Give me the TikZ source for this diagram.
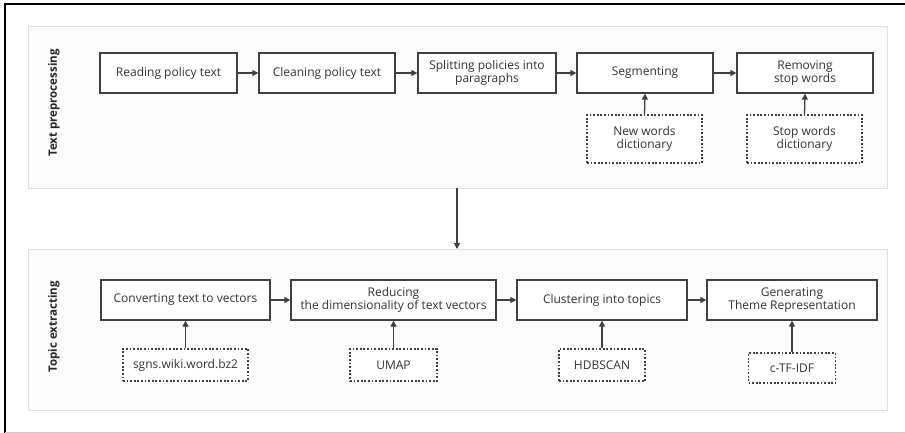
\documentclass[tikz,border=0pt]{standalone}
\usepackage{fontspec}
\setmainfont{Open Sans}
\usetikzlibrary{arrows.meta}
\definecolor{boxline}{HTML}{404040}
\definecolor{panelline}{HTML}{E0E0E0}
\definecolor{panelfill}{HTML}{FBFBFB}
\begin{document}
\begin{tikzpicture}[x=1pt,y=-1pt,
  panel/.style={draw=panelline,fill=panelfill,line width=1pt},
  stepbox/.style={draw=boxline,line width=1.3pt,fill=white,align=center,font=\fontsize{12}{13.5}\selectfont,text=black!80,inner sep=0pt},
  dictbox/.style={draw=boxline,line width=1.2pt,dash pattern=on 1.8pt off 1.8pt,fill=white,align=center,font=\fontsize{12}{13.5}\selectfont,text=black!80,inner sep=0pt},
  flow/.style={draw=boxline,line width=1.3pt,-{Triangle[length=6pt,width=6pt]}},
  lbl/.style={rotate=90,font=\bfseries\fontsize{11.5}{13}\selectfont,text=black!85}]
\useasboundingbox (0,0) rectangle (905,433);
% outer frame
\draw[black,line width=1.5pt] (5,433) -- (5,4) -- (905,4);
\draw[gray!40,line width=1pt] (5,432) -- (905,432);
% panels
\path[panel] (28,27) rectangle (887,188);
\path[panel] (28,249) rectangle (887,410);
\node[lbl] (lt) at (54,103) {Text preprocessing};
\node[lbl] (lb) at (54,327) {Topic extracting};
% top row
\node[stepbox,minimum width=137pt,minimum height=40pt] (a1) at (168.5,73) {Reading policy text};
\node[stepbox,minimum width=136pt,minimum height=40pt] (a2) at (327,73) {Cleaning policy text};
\node[stepbox,minimum width=138pt,minimum height=40pt] (a3) at (487,73) {Splitting policies into\\paragraphs};
\node[stepbox,minimum width=136pt,minimum height=40pt] (a4) at (645,73) {Segmenting};
\node[stepbox,minimum width=136pt,minimum height=40pt] (a5) at (805,73) {Removing\\stop words};
\node[dictbox,minimum width=115pt,minimum height=48pt] (d1) at (644.5,139) {New words\\dictionary};
\node[dictbox,minimum width=115pt,minimum height=48pt] (d2) at (804.5,139) {Stop words\\dictionary};
\draw[flow] (a1) -- (a2);
\draw[flow] (a2) -- (a3);
\draw[flow] (a3) -- (a4);
\draw[flow] (a4) -- (a5);
\draw[flow] (d1.north) -- (a4.south);
\draw[flow] (d2.north) -- (a5.south);
% bottom row
\node[stepbox,minimum width=169pt,minimum height=40pt] (b1) at (185.5,300) {Converting text to vectors};
\node[stepbox,minimum width=205pt,minimum height=40pt] (b2) at (393.5,300) {Reducing\\the dimensionality of text vectors};
\node[stepbox,minimum width=170pt,minimum height=40pt] (b3) at (602,300) {Clustering into topics};
\node[stepbox,minimum width=170pt,minimum height=40pt] (b4) at (792,300) {Generating\\Theme Representation};
\node[dictbox,minimum width=125pt,minimum height=32pt] (e1) at (185.5,365) {sgns.wiki.word.bz2};
\node[dictbox,minimum width=87pt,minimum height=32pt] (e2) at (393.5,365) {UMAP};
\node[dictbox,minimum width=86pt,minimum height=32pt] (e3) at (602,365) {HDBSCAN};
\node[dictbox,minimum width=87pt,minimum height=30pt] (e4) at (792,368) {c-TF-IDF};
\draw[flow] (b1) -- (b2);
\draw[flow] (b2) -- (b3);
\draw[flow] (b3) -- (b4);
\draw[flow] (e1.north) -- (b1.south);
\draw[flow] (e2.north) -- (b2.south);
\draw[flow] (e3.north) -- (b3.south);
\draw[flow] (e4.north) -- (b4.south);
% between panels
\coordinate (p1) at (457,188);
\coordinate (p2) at (457,249);
\draw[flow] (p1) -- (p2);
\end{tikzpicture}
\end{document}
